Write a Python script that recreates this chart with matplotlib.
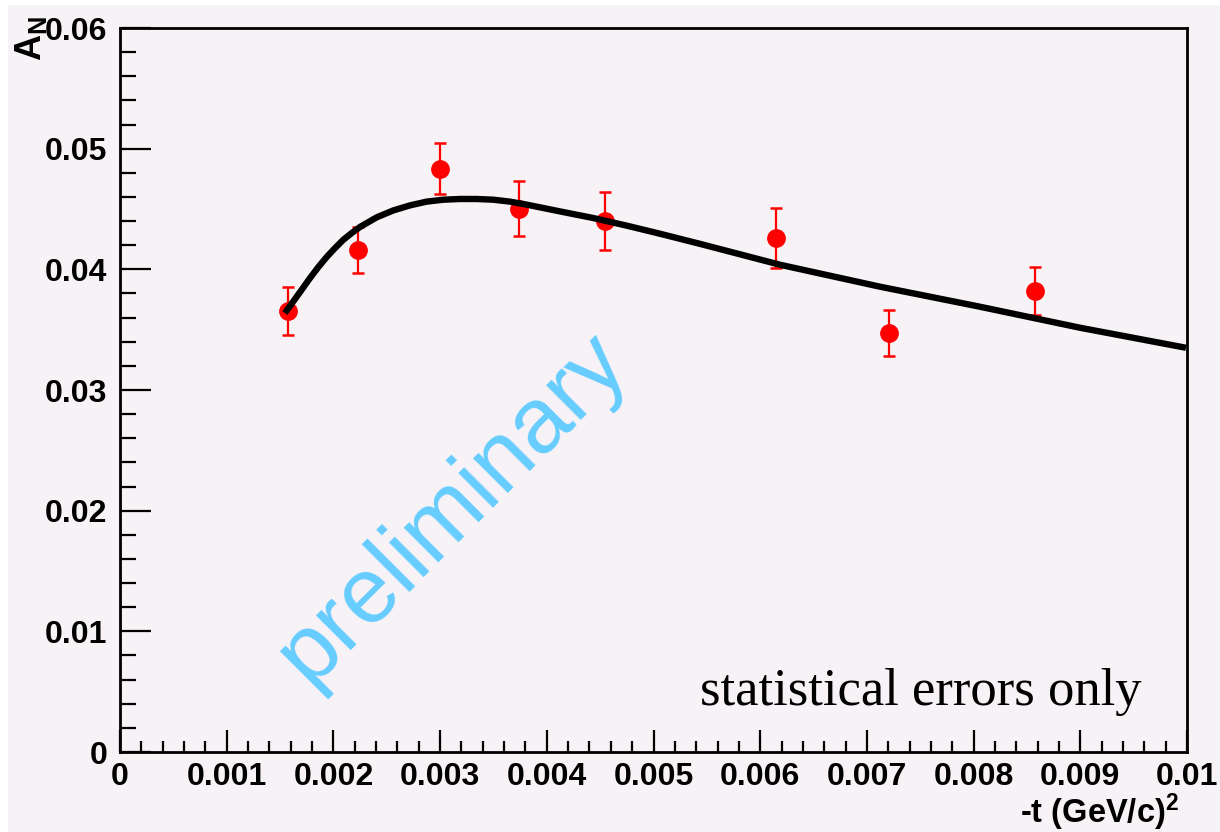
import matplotlib
matplotlib.use("Agg")
import matplotlib.pyplot as plt
from matplotlib.ticker import MultipleLocator, FuncFormatter
from matplotlib.patches import Rectangle

plt.rcParams["font.family"] = ["Liberation Sans", "DejaVu Sans"]
plt.rcParams["mathtext.fontset"] = "custom"
plt.rcParams["mathtext.rm"] = "Liberation Sans:bold"
plt.rcParams["mathtext.bf"] = "Liberation Sans:bold"
plt.rcParams["mathtext.it"] = "Liberation Sans:bold"

# measured points: -t (GeV/c)^2, analyzing power, statistical error
T_VALUES = [0.001575, 0.00223, 0.00300, 0.00374, 0.00455, 0.00615, 0.00721, 0.00858]
AN_VALUES = [0.03657, 0.04163, 0.04834, 0.04503, 0.04403, 0.04262, 0.03474, 0.03823]
AN_ERRORS = [0.0020, 0.0019, 0.0021, 0.0023, 0.0024, 0.0025, 0.0019, 0.0020]

# fit curve
FIT_T = [0.001546, 0.001624, 0.001703, 0.001781, 0.001859, 0.001937, 0.002015,
         0.002093, 0.002172, 0.002249, 0.002406, 0.002561, 0.002718, 0.002874,
         0.003030, 0.003187, 0.003343, 0.003499, 0.003655, 0.003812, 0.004124,
         0.004436, 0.004749, 0.005061, 0.005436, 0.006186, 0.007123, 0.008060,
         0.008997, 0.00999]
FIT_AN = [0.03638, 0.03734, 0.03831, 0.03928, 0.04019, 0.04102, 0.04176,
          0.04245, 0.04301, 0.04351, 0.04431, 0.04488, 0.04530, 0.04561,
          0.04577, 0.04583, 0.04583, 0.04577, 0.04561, 0.04536, 0.04480,
          0.04425, 0.04362, 0.04295, 0.04211, 0.04038, 0.03856, 0.03690,
          0.03516, 0.03350]

X_TICKS = [0, 0.001, 0.002, 0.003, 0.004, 0.005, 0.006, 0.007, 0.008, 0.009, 0.01]
Y_TICKS = [0, 0.01, 0.02, 0.03, 0.04, 0.05, 0.06]

BG = "#F6F2F6"
W, H = 1220, 832

fig = plt.figure(figsize=(W / 100, H / 100), dpi=100)
fig.patch.set_facecolor("white")
fig.patches.append(Rectangle((8 / W, 0), 1 - 8 / W, 1 - 5 / H, transform=fig.transFigure,
                             facecolor=BG, edgecolor="none", zorder=-10))

ax = fig.add_axes([120 / W, 80 / H, 1067 / W, 724 / H])
ax.set_facecolor(BG)

ax.errorbar(T_VALUES, AN_VALUES, yerr=AN_ERRORS, fmt="o", color="red", ms=12.5,
            elinewidth=1.6, capsize=4, capthick=1.8, zorder=3)
ax.plot(FIT_T, FIT_AN, color="black", lw=4.6, solid_capstyle="butt",
        solid_joinstyle="round", zorder=4)

ax.set_xlim(0, 0.01)
ax.set_ylim(0, 0.06)
ax.set_xticks(X_TICKS)
ax.set_yticks(Y_TICKS)
ax.xaxis.set_minor_locator(MultipleLocator(0.0002))
ax.yaxis.set_minor_locator(MultipleLocator(0.002))
fmt = FuncFormatter(lambda v, _p: "0" if v == 0 else f"{v:g}")
ax.xaxis.set_major_formatter(fmt)
ax.yaxis.set_major_formatter(fmt)

ax.tick_params(axis="both", which="both", direction="in", top=False, right=False,
               width=1.6, colors="black")
ax.tick_params(axis="y", which="major", length=22, pad=9)
ax.tick_params(axis="y", which="minor", length=11.5)
ax.tick_params(axis="x", which="major", length=16, pad=7)
ax.tick_params(axis="x", which="minor", length=8)
for lbl in ax.get_xticklabels() + ax.get_yticklabels():
    lbl.set_fontsize(23)
    lbl.set_fontweight("bold")
for side in ax.spines.values():
    side.set_linewidth(2)
    side.set_color("black")

# axis titles, ROOT style
fig.text(31 / W, 1 - 16 / H, r"A$_{N}$", rotation=90, ha="center", va="top",
         fontsize=26, fontweight="bold")
fig.text(1179 / W, 1 - 823 / H, r"-t (GeV/c)$^{2}$", ha="right", va="baseline",
         fontsize=23.5, fontweight="bold")

fig.text(700 / W, 1 - 705 / H, "statistical errors only",
         family=["Liberation Serif", "DejaVu Serif"], fontsize=38, ha="left",
         va="baseline", zorder=5)

fig.text(452 / W, 1 - 509 / H, "preliminary", rotation=45, ha="center", va="center",
         color="#66CCFF", fontsize=67, zorder=5)

fig.savefig("out.png", dpi=100, facecolor=fig.get_facecolor())
